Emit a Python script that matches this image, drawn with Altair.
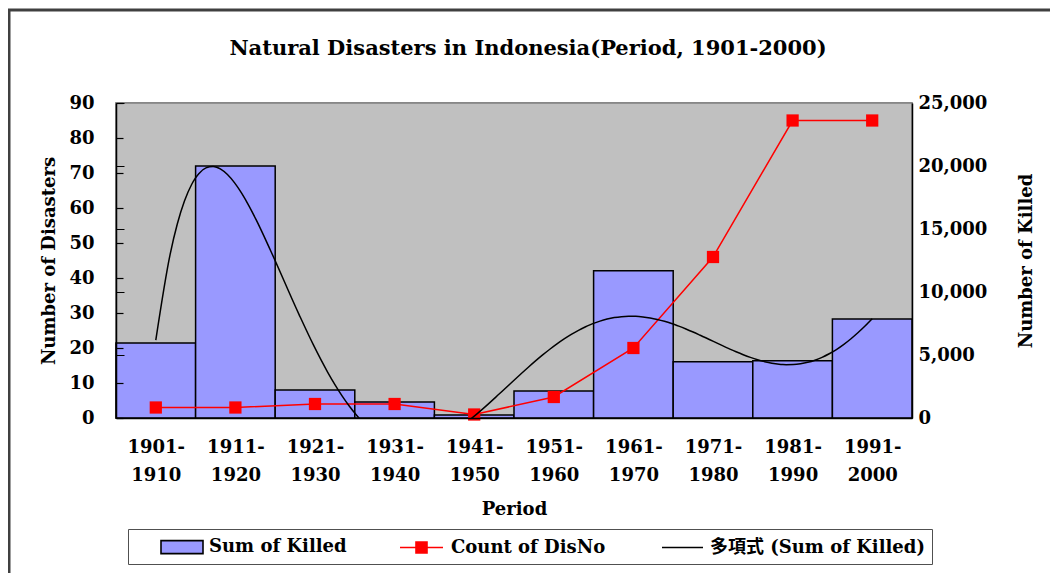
import json
import altair as alt
import pandas as pd

# ---- data ----
period_start = ["1901-", "1911-", "1921-", "1931-", "1941-", "1951-", "1961-", "1971-", "1981-", "1991-"]
period_end = ["1910", "1920", "1930", "1940", "1950", "1960", "1970", "1980", "1990", "2000"]
sum_killed = [5950, 20000, 2220, 1270, 240, 2140, 11690, 4470, 4550, 7860]
count_disno = [3, 3, 4, 4, 1, 6, 20, 46, 85, 85]
series_names = ["Sum of Killed", "Count of DisNo", "多項式 (Sum of Killed)"]

period_idx = list(range(1, len(period_start) + 1))
df = pd.DataFrame({"idx": period_idx, "killed": sum_killed, "count": count_disno})
legend_df = pd.DataFrame({"series": series_names})

SERIF = "DejaVu Serif, Noto Sans CJK JP"

label_expr = "[{0}[datum.value - 1], {1}[datum.value - 1]]".format(
    json.dumps(period_start), json.dumps(period_end))

x_scale = alt.Scale(domain=[0.5, 10.5], nice=False, zero=False)
x_axis = alt.Axis(values=period_idx, labelExpr=label_expr, grid=False, ticks=False,
                  labelFont=SERIF, labelFontWeight="bold", labelFontSize=18, labelColor="black",
                  labelPadding=20, labelLineHeight=28, labelFlush=False,
                  domainColor="black", domainWidth=1.5, zindex=1,
                  title="Period", titleFont=SERIF, titleFontWeight="bold", titleFontSize=18,
                  titleColor="black", titlePadding=16)

# inward tick marks drawn as very short dashed grid lines
left_axis = alt.Axis(orient="left", values=list(range(0, 91, 10)), grid=True,
                     gridColor="black", gridWidth=1.2, gridDash=[7, 3000], ticks=False,
                     labelFont=SERIF, labelFontWeight="bold", labelFontSize=18, labelColor="black",
                     labelPadding=22, domainColor="black", domainWidth=1.5, zindex=1,
                     title="Number of Disasters", titleFont=SERIF, titleFontWeight="bold",
                     titleFontSize=18, titleColor="black", titlePadding=10)

right_axis = alt.Axis(orient="right", values=list(range(0, 25001, 5000)),
                      labelExpr="format(datum.value, ',')", grid=True,
                      gridColor="black", gridWidth=1.2, gridDash=[0, 788, 8, 3000],
                      ticks=False, labelFont=SERIF, labelFontWeight="bold", labelFontSize=18,
                      labelColor="black", labelPadding=6, domainColor="black", domainWidth=1.5,
                      zindex=1,
                      title="Number of Killed", titleFont=SERIF, titleFontWeight="bold",
                      titleFontSize=18, titleColor="black", titlePadding=49, titleAngle=270)

killed_scale = alt.Scale(domain=[0, 25000], nice=False)
count_scale = alt.Scale(domain=[0, 90], nice=False)

plot_bg = alt.Chart(pd.DataFrame({"f": [0]})).mark_rect(
    fill="#C0C0C0", stroke="#808080", strokeWidth=1.5
).encode(x=alt.value(0), x2=alt.value("width"), y=alt.value(0), y2=alt.value("height"))

bars = alt.Chart(df).transform_calculate(
    lo="datum.idx - 0.5", hi="datum.idx + 0.5"
).mark_bar(fill="#9999FF", stroke="black", strokeWidth=1.5).encode(
    x=alt.X("lo:Q", scale=x_scale, axis=x_axis),
    x2="hi:Q",
    y=alt.Y("killed:Q", scale=killed_scale, axis=right_axis),
    y2=alt.datum(0),
)

count_line = alt.Chart(df).mark_line(
    color="#FF0000", strokeWidth=1.5,
    point=alt.OverlayMarkDef(shape="square", size=150, filled=True, color="#FF0000", opacity=1),
).encode(
    x=alt.X("idx:Q", scale=x_scale, axis=x_axis),
    y=alt.Y("count:Q", scale=count_scale, axis=left_axis),
)

trend = alt.Chart(df).transform_regression(
    "idx", "killed", method="poly", order=6
).mark_line(color="black", strokeWidth=1.5, clip=True, interpolate="monotone").encode(
    x=alt.X("idx:Q", scale=x_scale, axis=x_axis),
    y=alt.Y("killed:Q", scale=killed_scale, axis=None),
)

leg = alt.Legend(orient="none", legendX=12, legendY=426, direction="horizontal", title=None,
                 strokeColor="#505050", fillColor="white", padding=7,
                 symbolSize=400, symbolStrokeWidth=1.6, symbolOpacity=1,
                 labelFont=SERIF, labelFontSize=18, labelFontWeight="bold", labelColor="black",
                 labelOffset=52, columnPadding=30, labelLimit=400)

legend_layer = alt.Chart(legend_df).mark_point(opacity=0, filled=True).encode(
    fill=alt.Fill("series:N", scale=alt.Scale(domain=series_names,
                                             range=["#9999FF", "#FF0000", "transparent"]), legend=leg),
    stroke=alt.Stroke("series:N", scale=alt.Scale(domain=series_names,
                                                 range=["#000000", "#FF0000", "#000000"]), legend=leg),
    shape=alt.Shape("series:N", scale=alt.Scale(domain=series_names,
                                               range=["M1.5,-0.65H5.7V0.65H1.5Z",
                                                      "M1.2,0H5.5M2.8,-0.55H3.9V0.55H2.8Z",
                                                      "M1.5,0H5.6"]), legend=leg),
)

frame_df = pd.DataFrame({"f": [0]})
frame_top = alt.Chart(frame_df).mark_rule(color="#404040", strokeWidth=3).encode(
    x=alt.value(-108), x2=alt.value(940), y=alt.value(-93))
frame_left = alt.Chart(frame_df).mark_rule(color="#404040", strokeWidth=3).encode(
    x=alt.value(-107), y=alt.value(-94), y2=alt.value(470))

chart = alt.layer(plot_bg, bars, count_line, trend, legend_layer, frame_top, frame_left).resolve_scale(
    y="independent"
).properties(
    width=796, height=315,
    padding={"left": 108, "top": 95, "right": 138, "bottom": 156},
    autosize=alt.AutoSizeParams(type="none"),
    background="white",
    title=alt.TitleParams("Natural Disasters in Indonesia(Period, 1901-2000)", font=SERIF,
                          fontSize=21, fontWeight="bold", color="black", anchor="middle",
                          frame="group", dx=14, offset=-51),
).configure_view(fill="#C0C0C0", stroke="#808080", strokeWidth=1.5)

chart.save("out.html", embed_options={"renderer": "svg", "actions": False})
